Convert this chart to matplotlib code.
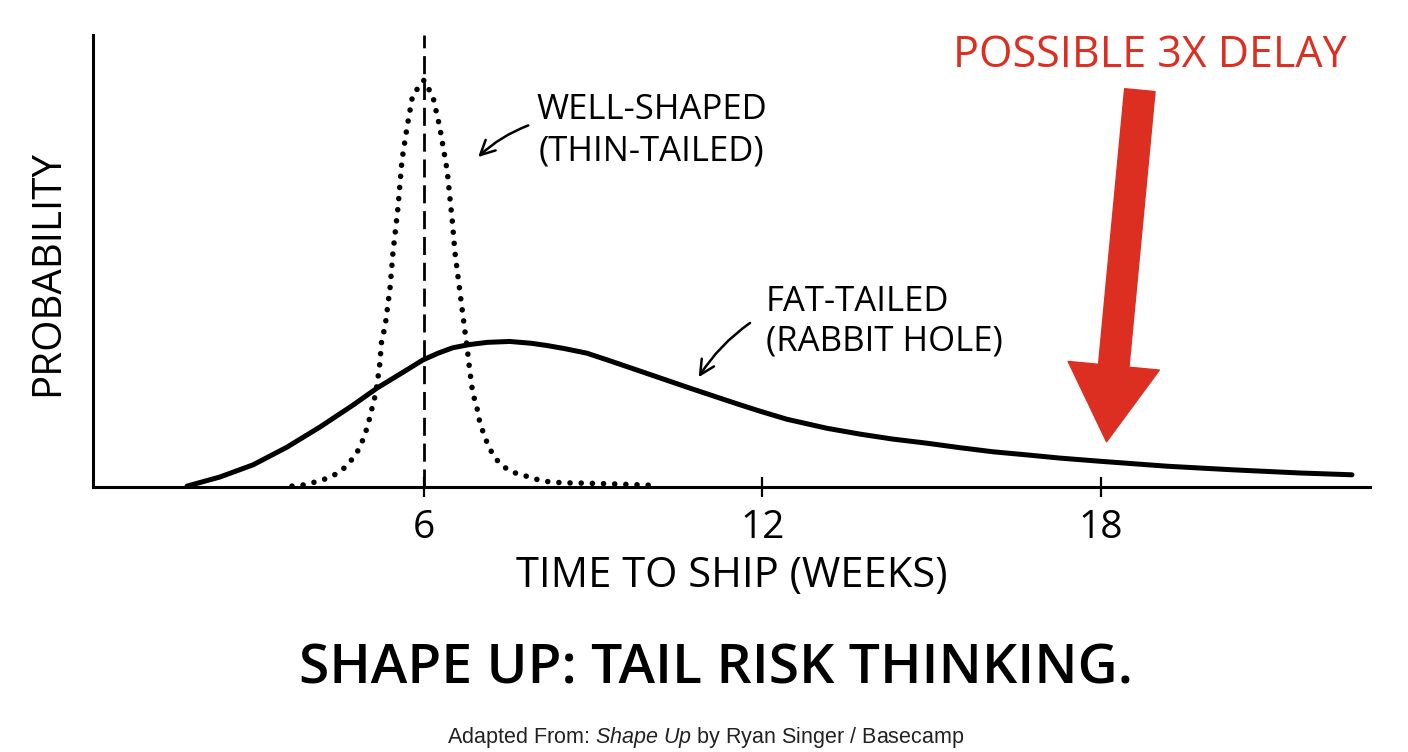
import matplotlib.pyplot as plt

# curva gorda (rabbit hole)
fat_weeks = [1.80, 2.38, 2.97, 3.57, 4.16, 4.74, 5.17, 5.63, 5.98, 6.25, 6.51, 6.80, 7.12, 7.52,
             7.90, 8.18, 8.50, 8.89, 9.30, 9.77, 10.66, 11.55, 11.95, 12.43, 13.14, 13.73, 14.31,
             14.91, 15.50, 16.08, 16.69, 17.27, 17.98, 19.17, 20.34, 21.53, 22.45]
fat_prob = [0.002, 0.022, 0.049, 0.088, 0.133, 0.181, 0.219, 0.254, 0.281, 0.296, 0.308, 0.315,
            0.320, 0.322, 0.318, 0.313, 0.306, 0.296, 0.279, 0.259, 0.221, 0.184, 0.168, 0.150,
            0.130, 0.117, 0.106, 0.097, 0.087, 0.078, 0.071, 0.064, 0.057, 0.046, 0.038, 0.031,
            0.027]

# curva fina (well-shaped)
thin_weeks = [3.66, 3.84, 4.01, 4.19, 4.37, 4.53, 4.67, 4.79, 4.88, 4.95, 5.01, 5.06, 5.10,
              5.15, 5.17, 5.20, 5.22, 5.25, 5.31, 5.40, 5.45, 5.54, 5.61, 5.70, 5.80, 6.00,
              6.16, 6.28, 6.41, 6.50, 6.55, 6.64, 6.73, 6.76, 6.80, 6.85, 6.89, 6.94, 6.97,
              7.03, 7.10, 7.17, 7.26, 7.40, 7.56, 7.74, 7.91, 8.11, 8.29, 8.48, 8.68, 9.30, 10.01]
thin_prob = [0.002, 0.004, 0.009, 0.015, 0.024, 0.035, 0.053, 0.071, 0.093, 0.115, 0.139, 0.164,
             0.186, 0.208, 0.232, 0.254, 0.277, 0.325, 0.354, 0.442, 0.518, 0.619, 0.723, 0.796,
             0.867, 0.900, 0.863, 0.796, 0.701, 0.591, 0.518, 0.429, 0.341, 0.314, 0.270, 0.221,
             0.197, 0.175, 0.153, 0.128, 0.104, 0.084, 0.064, 0.046, 0.033, 0.027, 0.020, 0.013,
             0.011, 0.009, 0.009, 0.007, 0.004]

tick_weeks = [6, 12, 18]
target_week = 6
delay_week = 18

fonte = 'Open Sans'
vermelho = '#dc2f22'
plt.rcParams['mathtext.fontset'] = 'custom'
plt.rcParams['mathtext.rm'] = 'Liberation Sans'
plt.rcParams['mathtext.it'] = 'Liberation Sans:italic'

W, H = 1408, 752
fig = plt.figure(figsize=(W / 100, H / 100), dpi=100)
ax = fig.add_axes([93 / W, 1 - 487 / H, (1370 - 93) / W, (487 - 35) / H])

ax.plot(fat_weeks, fat_prob, color='black', lw=3.6, solid_capstyle='round',
        solid_joinstyle='round')
ax.plot(thin_weeks, thin_prob, color='black', lw=4.0, linestyle=(0, (0.01, 2.0)),
        dash_capstyle='round')
ax.axvline(target_week, color='black', lw=2.0, linestyle=(0, (6.5, 2.8)))

ax.set_xlim(0.133, 22.77)
ax.set_ylim(0, 1)
for s in ['top', 'right']:
    ax.spines[s].set_visible(False)
ax.spines['left'].set_linewidth(2.2)
ax.spines['bottom'].set_linewidth(2.2)
ax.set_yticks([])
ax.set_xticks(tick_weeks)
ax.set_xticklabels([str(t) for t in tick_weeks], fontsize=28, family=fonte)
ax.tick_params(axis='x', direction='inout', length=15, width=1.6, pad=8)
ax.set_xlabel('TIME TO SHIP (WEEKS)', fontsize=30, family=fonte, labelpad=6)

# rotulos das curvas
fig.text(652 / W, 1 - 110 / H, 'WELL-SHAPED', ha='center', va='center', fontsize=25, family=fonte)
fig.text(651 / W, 1 - 152 / H, '(THIN-TAILED)', ha='center', va='center', fontsize=25, family=fonte)
ax.annotate('', xy=(6.96, 0.73), xytext=(7.85, 0.80),
            arrowprops=dict(arrowstyle='->', color='black', lw=1.8,
                            connectionstyle='arc3,rad=0.1', shrinkA=0, shrinkB=0,
                            mutation_scale=26))
fig.text(766 / W, 1 - 302 / H, 'FAT-TAILED', ha='left', va='center', fontsize=25, family=fonte)
fig.text(766 / W, 1 - 341 / H, '(RABBIT HOLE)', ha='left', va='center', fontsize=25, family=fonte)
ax.annotate('', xy=(10.87, 0.243), xytext=(11.78, 0.363),
            arrowprops=dict(arrowstyle='->', color='black', lw=1.8,
                            connectionstyle='arc3,rad=0.1', shrinkA=0, shrinkB=0,
                            mutation_scale=26))

# seta vermelha
ax.annotate('', xy=(delay_week + 0.1, 0.10), xytext=(delay_week + 0.69, 0.878),
            arrowprops=dict(arrowstyle='simple,head_length=2.5,head_width=3,tail_width=1',
                            mutation_scale=22, color=vermelho, shrinkA=0, shrinkB=0))
fig.text(1150 / W, 1 - 56 / H, 'POSSIBLE 3X DELAY', ha='center', va='center',
         fontsize=31, color=vermelho, family=fonte)

fig.text(48 / W, 1 - 273 / H, 'PROBABILITY', rotation=90, ha='center', va='center',
         fontsize=29, family=fonte)
fig.text(716 / W, 1 - 670 / H, 'SHAPE UP: TAIL RISK THINKING.', ha='center', va='center',
         fontsize=39.8, family=fonte, weight='semibold')
fig.text(706 / W, 1 - 737 / H, r'Adapted From: $\mathit{Shape\ Up}$ by Ryan Singer / Basecamp',
         ha='center', va='center', fontsize=15.5, family='Liberation Sans', color='#222222')

fig.savefig('out.png', dpi=100, facecolor='white')
